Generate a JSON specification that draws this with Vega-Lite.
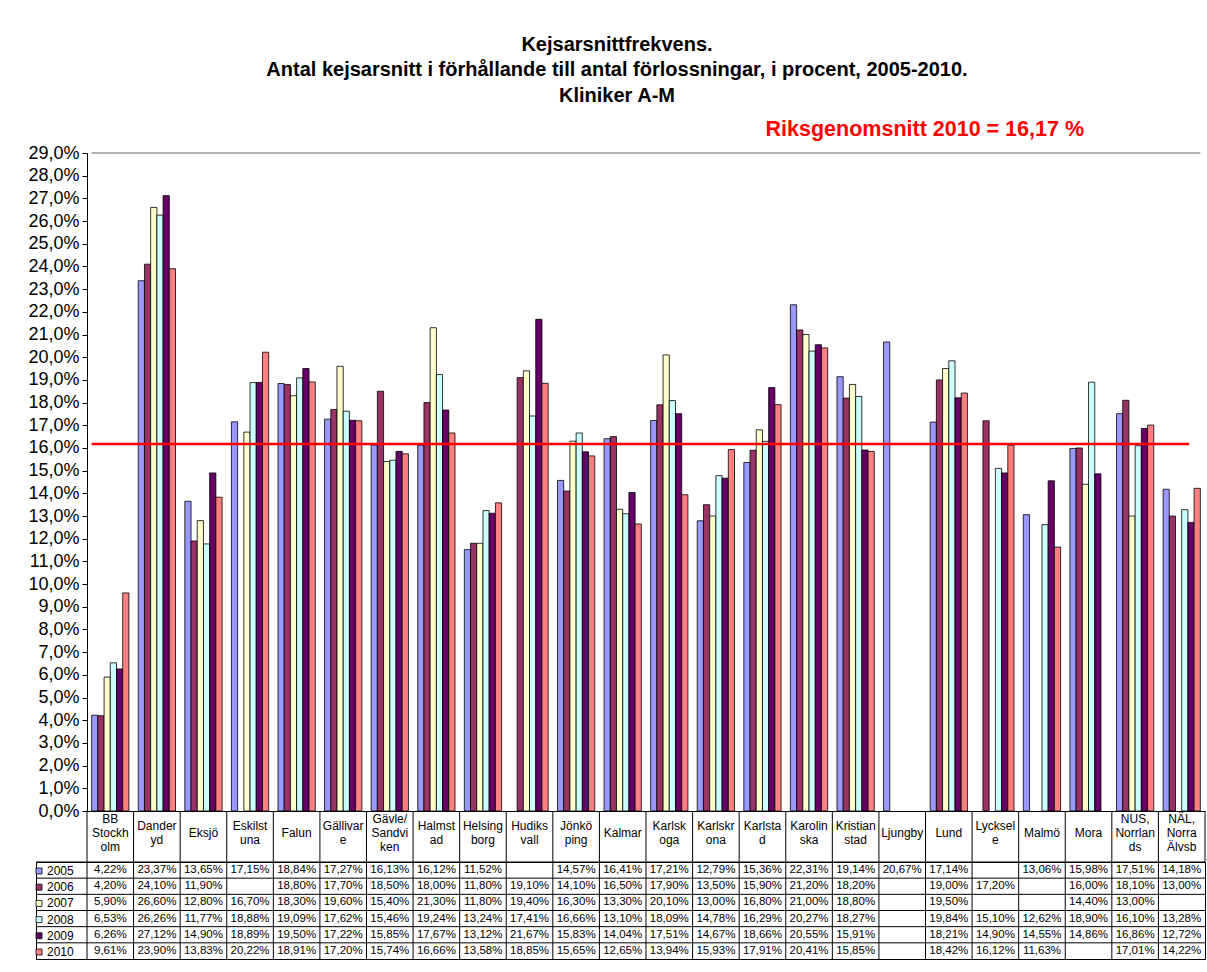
{
  "$schema": "https://vega.github.io/schema/vega-lite/v6.json",
  "background": "white",
  "padding": {"left": 27, "top": 34, "right": 2, "bottom": 5},
  "spacing": 0,
  "bounds": "flush",
  "config": {
    "font": "Liberation Sans",
    "locale": {"number": {"decimal": ",", "thousands": " ", "grouping": [3], "currency": ["", " kr"]}},
    "view": {"stroke": null},
    "concat": {"spacing": 0},
    "axisY": {"labelOverlap": false, "tickCount": 40, "labelFontSize": 18, "labelColor": "black", "labelPadding": 3, "tickSize": 5, "tickColor": "black", "domainColor": "black", "grid": false}
  },
  "title": {
    "text": ["Kejsarsnittfrekvens.", "Antal kejsarsnitt i förhållande  till antal förlossningar, i procent, 2005-2010.", "Kliniker A-M"],
    "fontSize": 20, "fontWeight": "bold", "lineHeight": 25.5, "anchor": "middle", "offset": 13, "color": "black"
  },
  "datasets": {
    "kliniker": [
      {"k": "BB Stockholm", "rubrik": "BB|Stockh|olm"},
      {"k": "Danderyd", "rubrik": "Dander|yd"},
      {"k": "Eksjö", "rubrik": "Eksjö"},
      {"k": "Eskilstuna", "rubrik": "Eskilst|una"},
      {"k": "Falun", "rubrik": "Falun"},
      {"k": "Gällivare", "rubrik": "Gällivar|e"},
      {"k": "Gävle/Sandviken", "rubrik": "Gävle/|Sandvi|ken"},
      {"k": "Halmstad", "rubrik": "Halmst|ad"},
      {"k": "Helsingborg", "rubrik": "Helsing|borg"},
      {"k": "Hudiksvall", "rubrik": "Hudiks|vall"},
      {"k": "Jönköping", "rubrik": "Jönkö|ping"},
      {"k": "Kalmar", "rubrik": "Kalmar"},
      {"k": "Karlskoga", "rubrik": "Karlsk|oga"},
      {"k": "Karlskrona", "rubrik": "Karlskr|ona"},
      {"k": "Karlstad", "rubrik": "Karlsta|d"},
      {"k": "Karolinska", "rubrik": "Karolin|ska"},
      {"k": "Kristianstad", "rubrik": "Kristian|stad"},
      {"k": "Ljungby", "rubrik": "Ljungby"},
      {"k": "Lund", "rubrik": "Lund"},
      {"k": "Lycksele", "rubrik": "Lycksel|e"},
      {"k": "Malmö", "rubrik": "Malmö"},
      {"k": "Mora", "rubrik": "Mora"},
      {"k": "NUS, Norrlands", "rubrik": "NUS,|Norrlan|ds"},
      {"k": "NÄL, Norra Älvsb", "rubrik": "NÄL,|Norra|Älvsb"}
    ],
    "ar": [{"ar": "2005"}, {"ar": "2006"}, {"ar": "2007"}, {"ar": "2008"}, {"ar": "2009"}, {"ar": "2010"}],
    "data": [
      {"k": "BB Stockholm", "ar": "2005", "v": 0.0422}, {"k": "BB Stockholm", "ar": "2006", "v": 0.0420}, {"k": "BB Stockholm", "ar": "2007", "v": 0.0590}, {"k": "BB Stockholm", "ar": "2008", "v": 0.0653}, {"k": "BB Stockholm", "ar": "2009", "v": 0.0626}, {"k": "BB Stockholm", "ar": "2010", "v": 0.0961},
      {"k": "Danderyd", "ar": "2005", "v": 0.2337}, {"k": "Danderyd", "ar": "2006", "v": 0.2410}, {"k": "Danderyd", "ar": "2007", "v": 0.2660}, {"k": "Danderyd", "ar": "2008", "v": 0.2626}, {"k": "Danderyd", "ar": "2009", "v": 0.2712}, {"k": "Danderyd", "ar": "2010", "v": 0.2390},
      {"k": "Eksjö", "ar": "2005", "v": 0.1365}, {"k": "Eksjö", "ar": "2006", "v": 0.1190}, {"k": "Eksjö", "ar": "2007", "v": 0.1280}, {"k": "Eksjö", "ar": "2008", "v": 0.1177}, {"k": "Eksjö", "ar": "2009", "v": 0.1490}, {"k": "Eksjö", "ar": "2010", "v": 0.1383},
      {"k": "Eskilstuna", "ar": "2005", "v": 0.1715}, {"k": "Eskilstuna", "ar": "2007", "v": 0.1670}, {"k": "Eskilstuna", "ar": "2008", "v": 0.1888}, {"k": "Eskilstuna", "ar": "2009", "v": 0.1889}, {"k": "Eskilstuna", "ar": "2010", "v": 0.2022},
      {"k": "Falun", "ar": "2005", "v": 0.1884}, {"k": "Falun", "ar": "2006", "v": 0.1880}, {"k": "Falun", "ar": "2007", "v": 0.1830}, {"k": "Falun", "ar": "2008", "v": 0.1909}, {"k": "Falun", "ar": "2009", "v": 0.1950}, {"k": "Falun", "ar": "2010", "v": 0.1891},
      {"k": "Gällivare", "ar": "2005", "v": 0.1727}, {"k": "Gällivare", "ar": "2006", "v": 0.1770}, {"k": "Gällivare", "ar": "2007", "v": 0.1960}, {"k": "Gällivare", "ar": "2008", "v": 0.1762}, {"k": "Gällivare", "ar": "2009", "v": 0.1722}, {"k": "Gällivare", "ar": "2010", "v": 0.1720},
      {"k": "Gävle/Sandviken", "ar": "2005", "v": 0.1613}, {"k": "Gävle/Sandviken", "ar": "2006", "v": 0.1850}, {"k": "Gävle/Sandviken", "ar": "2007", "v": 0.1540}, {"k": "Gävle/Sandviken", "ar": "2008", "v": 0.1546}, {"k": "Gävle/Sandviken", "ar": "2009", "v": 0.1585}, {"k": "Gävle/Sandviken", "ar": "2010", "v": 0.1574},
      {"k": "Halmstad", "ar": "2005", "v": 0.1612}, {"k": "Halmstad", "ar": "2006", "v": 0.1800}, {"k": "Halmstad", "ar": "2007", "v": 0.2130}, {"k": "Halmstad", "ar": "2008", "v": 0.1924}, {"k": "Halmstad", "ar": "2009", "v": 0.1767}, {"k": "Halmstad", "ar": "2010", "v": 0.1666},
      {"k": "Helsingborg", "ar": "2005", "v": 0.1152}, {"k": "Helsingborg", "ar": "2006", "v": 0.1180}, {"k": "Helsingborg", "ar": "2007", "v": 0.1180}, {"k": "Helsingborg", "ar": "2008", "v": 0.1324}, {"k": "Helsingborg", "ar": "2009", "v": 0.1312}, {"k": "Helsingborg", "ar": "2010", "v": 0.1358},
      {"k": "Hudiksvall", "ar": "2006", "v": 0.1910}, {"k": "Hudiksvall", "ar": "2007", "v": 0.1940}, {"k": "Hudiksvall", "ar": "2008", "v": 0.1741}, {"k": "Hudiksvall", "ar": "2009", "v": 0.2167}, {"k": "Hudiksvall", "ar": "2010", "v": 0.1885},
      {"k": "Jönköping", "ar": "2005", "v": 0.1457}, {"k": "Jönköping", "ar": "2006", "v": 0.1410}, {"k": "Jönköping", "ar": "2007", "v": 0.1630}, {"k": "Jönköping", "ar": "2008", "v": 0.1666}, {"k": "Jönköping", "ar": "2009", "v": 0.1583}, {"k": "Jönköping", "ar": "2010", "v": 0.1565},
      {"k": "Kalmar", "ar": "2005", "v": 0.1641}, {"k": "Kalmar", "ar": "2006", "v": 0.1650}, {"k": "Kalmar", "ar": "2007", "v": 0.1330}, {"k": "Kalmar", "ar": "2008", "v": 0.1310}, {"k": "Kalmar", "ar": "2009", "v": 0.1404}, {"k": "Kalmar", "ar": "2010", "v": 0.1265},
      {"k": "Karlskoga", "ar": "2005", "v": 0.1721}, {"k": "Karlskoga", "ar": "2006", "v": 0.1790}, {"k": "Karlskoga", "ar": "2007", "v": 0.2010}, {"k": "Karlskoga", "ar": "2008", "v": 0.1809}, {"k": "Karlskoga", "ar": "2009", "v": 0.1751}, {"k": "Karlskoga", "ar": "2010", "v": 0.1394},
      {"k": "Karlskrona", "ar": "2005", "v": 0.1279}, {"k": "Karlskrona", "ar": "2006", "v": 0.1350}, {"k": "Karlskrona", "ar": "2007", "v": 0.1300}, {"k": "Karlskrona", "ar": "2008", "v": 0.1478}, {"k": "Karlskrona", "ar": "2009", "v": 0.1467}, {"k": "Karlskrona", "ar": "2010", "v": 0.1593},
      {"k": "Karlstad", "ar": "2005", "v": 0.1536}, {"k": "Karlstad", "ar": "2006", "v": 0.1590}, {"k": "Karlstad", "ar": "2007", "v": 0.1680}, {"k": "Karlstad", "ar": "2008", "v": 0.1629}, {"k": "Karlstad", "ar": "2009", "v": 0.1866}, {"k": "Karlstad", "ar": "2010", "v": 0.1791},
      {"k": "Karolinska", "ar": "2005", "v": 0.2231}, {"k": "Karolinska", "ar": "2006", "v": 0.2120}, {"k": "Karolinska", "ar": "2007", "v": 0.2100}, {"k": "Karolinska", "ar": "2008", "v": 0.2027}, {"k": "Karolinska", "ar": "2009", "v": 0.2055}, {"k": "Karolinska", "ar": "2010", "v": 0.2041},
      {"k": "Kristianstad", "ar": "2005", "v": 0.1914}, {"k": "Kristianstad", "ar": "2006", "v": 0.1820}, {"k": "Kristianstad", "ar": "2007", "v": 0.1880}, {"k": "Kristianstad", "ar": "2008", "v": 0.1827}, {"k": "Kristianstad", "ar": "2009", "v": 0.1591}, {"k": "Kristianstad", "ar": "2010", "v": 0.1585},
      {"k": "Ljungby", "ar": "2005", "v": 0.2067},
      {"k": "Lund", "ar": "2005", "v": 0.1714}, {"k": "Lund", "ar": "2006", "v": 0.1900}, {"k": "Lund", "ar": "2007", "v": 0.1950}, {"k": "Lund", "ar": "2008", "v": 0.1984}, {"k": "Lund", "ar": "2009", "v": 0.1821}, {"k": "Lund", "ar": "2010", "v": 0.1842},
      {"k": "Lycksele", "ar": "2006", "v": 0.1720}, {"k": "Lycksele", "ar": "2008", "v": 0.1510}, {"k": "Lycksele", "ar": "2009", "v": 0.1490}, {"k": "Lycksele", "ar": "2010", "v": 0.1612},
      {"k": "Malmö", "ar": "2005", "v": 0.1306}, {"k": "Malmö", "ar": "2008", "v": 0.1262}, {"k": "Malmö", "ar": "2009", "v": 0.1455}, {"k": "Malmö", "ar": "2010", "v": 0.1163},
      {"k": "Mora", "ar": "2005", "v": 0.1598}, {"k": "Mora", "ar": "2006", "v": 0.1600}, {"k": "Mora", "ar": "2007", "v": 0.1440}, {"k": "Mora", "ar": "2008", "v": 0.1890}, {"k": "Mora", "ar": "2009", "v": 0.1486},
      {"k": "NUS, Norrlands", "ar": "2005", "v": 0.1751}, {"k": "NUS, Norrlands", "ar": "2006", "v": 0.1810}, {"k": "NUS, Norrlands", "ar": "2007", "v": 0.1300}, {"k": "NUS, Norrlands", "ar": "2008", "v": 0.1610}, {"k": "NUS, Norrlands", "ar": "2009", "v": 0.1686}, {"k": "NUS, Norrlands", "ar": "2010", "v": 0.1701},
      {"k": "NÄL, Norra Älvsb", "ar": "2005", "v": 0.1418}, {"k": "NÄL, Norra Älvsb", "ar": "2006", "v": 0.1300}, {"k": "NÄL, Norra Älvsb", "ar": "2008", "v": 0.1328}, {"k": "NÄL, Norra Älvsb", "ar": "2009", "v": 0.1272}, {"k": "NÄL, Norra Älvsb", "ar": "2010", "v": 0.1422}
    ]
  },
  "vconcat": [
    {
      "width": 1169, "height": 658,
      "title": {"text": "Riksgenomsnitt 2010 = 16,17 %", "anchor": "end", "dx": -121, "color": "#FF0000", "fontSize": 21.5, "fontWeight": "bold", "offset": 4},
      "layer": [
        {
          "data": {"name": "data"},
          "mark": {"type": "bar", "stroke": "black", "strokeWidth": 0.8},
          "encoding": {
            "x": {"field": "k", "type": "nominal",
              "scale": {"domain": ["BB Stockholm", "Danderyd", "Eksjö", "Eskilstuna", "Falun", "Gällivare", "Gävle/Sandviken", "Halmstad", "Helsingborg", "Hudiksvall", "Jönköping", "Kalmar", "Karlskoga", "Karlskrona", "Karlstad", "Karolinska", "Kristianstad", "Ljungby", "Lund", "Lycksele", "Malmö", "Mora", "NUS, Norrlands", "NÄL, Norra Älvsb"], "range": [51, 1169], "paddingInner": 0.2, "paddingOuter": 0.1},
              "axis": {"title": null, "labels": false, "ticks": false, "domain": true, "domainColor": "black", "domainWidth": 1}},
            "xOffset": {"field": "ar", "type": "nominal", "scale": {"paddingInner": 0, "paddingOuter": 0}},
            "y": {"field": "v", "type": "quantitative",
              "scale": {"domain": [0, 0.29], "nice": false},
              "axis": {"title": null, "offset": -51, "tickCount": 40, "values": [0, 0.01, 0.02, 0.03, 0.04, 0.05, 0.06, 0.07, 0.08, 0.09, 0.1, 0.11, 0.12, 0.13, 0.14, 0.15, 0.16, 0.17, 0.18, 0.19, 0.2, 0.21, 0.22, 0.23, 0.24, 0.25, 0.26, 0.27, 0.28, 0.29], "format": ".1%", "labelOverlap": false}},
            "fill": {"field": "ar", "type": "nominal",
              "scale": {"domain": ["2005", "2006", "2007", "2008", "2009", "2010"], "range": ["#9999FF", "#993366", "#FFFFCC", "#CCFFFF", "#660066", "#FF8080"]},
              "legend": {"orient": "none", "legendX": -3, "legendY": 712, "padding": 0, "direction": "vertical", "title": null, "symbolType": "square", "symbolSize": 36, "symbolStrokeColor": "black", "symbolStrokeWidth": 0.8, "labelFontSize": 12, "labelColor": "black", "rowPadding": 4.2, "labelOffset": 2}}
          }
        },
        {
          "data": {"values": [{}]},
          "mark": {"type": "rule", "color": "#FF0000", "strokeWidth": 2.5},
          "encoding": {
            "x": {"datum": "BB Stockholm", "bandPosition": 0},
            "x2": {"datum": "NÄL, Norra Älvsb", "bandPosition": 0.7},
            "y": {"datum": 0.1617, "axis": {"title": null, "offset": -51, "tickCount": 40, "values": [0, 0.01, 0.02, 0.03, 0.04, 0.05, 0.06, 0.07, 0.08, 0.09, 0.1, 0.11, 0.12, 0.13, 0.14, 0.15, 0.16, 0.17, 0.18, 0.19, 0.2, 0.21, 0.22, 0.23, 0.24, 0.25, 0.26, 0.27, 0.28, 0.29], "format": ".1%", "labelOverlap": false}}
          }
        },
        {
          "data": {"values": [{}]},
          "mark": {"type": "rule", "color": "#999999", "strokeWidth": 1.5},
          "encoding": {
            "x": {"datum": "BB Stockholm", "bandPosition": 0},
            "x2": {"datum": "NÄL, Norra Älvsb", "bandPosition": 1},
            "y": {"datum": 0.29, "axis": {"title": null, "offset": -51, "tickCount": 40, "values": [0, 0.01, 0.02, 0.03, 0.04, 0.05, 0.06, 0.07, 0.08, 0.09, 0.1, 0.11, 0.12, 0.13, 0.14, 0.15, 0.16, 0.17, 0.18, 0.19, 0.2, 0.21, 0.22, 0.23, 0.24, 0.25, 0.26, 0.27, 0.28, 0.29], "format": ".1%", "labelOverlap": false}}
          }
        }
      ]
    },
    {
      "width": 1169, "height": 51,
      "data": {"name": "kliniker"},
      "encoding": {
        "x": {"field": "k", "type": "nominal",
          "scale": {"domain": ["BB Stockholm", "Danderyd", "Eksjö", "Eskilstuna", "Falun", "Gällivare", "Gävle/Sandviken", "Halmstad", "Helsingborg", "Hudiksvall", "Jönköping", "Kalmar", "Karlskoga", "Karlskrona", "Karlstad", "Karolinska", "Kristianstad", "Ljungby", "Lund", "Lycksele", "Malmö", "Mora", "NUS, Norrlands", "NÄL, Norra Älvsb"], "range": [51, 1169], "paddingInner": 0, "paddingOuter": 0},
          "axis": null}
      },
      "layer": [
        {
          "mark": {"type": "rule", "color": "black", "strokeWidth": 1},
          "encoding": {"x": {"field": "k", "type": "nominal", "bandPosition": 0}}
        },
        {
          "data": {"values": [{}]},
          "mark": {"type": "rule", "color": "black", "strokeWidth": 1},
          "encoding": {"x": {"datum": "NÄL, Norra Älvsb", "bandPosition": 1}}
        },
        {
          "transform": [{"filter": "length(split(datum.rubrik, '|')) == 1"}],
          "mark": {"type": "text", "lineBreak": "|", "fontSize": 12, "lineHeight": 14, "baseline": "middle", "dy": -3.5, "color": "black"},
          "encoding": {"text": {"field": "rubrik"}}
        },
        {
          "transform": [{"filter": "length(split(datum.rubrik, '|')) == 2"}],
          "mark": {"type": "text", "lineBreak": "|", "fontSize": 12, "lineHeight": 14, "baseline": "middle", "dy": -10.5, "color": "black"},
          "encoding": {"text": {"field": "rubrik"}}
        },
        {
          "transform": [{"filter": "length(split(datum.rubrik, '|')) == 3"}],
          "mark": {"type": "text", "lineBreak": "|", "fontSize": 12, "lineHeight": 14, "baseline": "middle", "dy": -17.5, "color": "black"},
          "encoding": {"text": {"field": "rubrik"}}
        }
      ]
    },
    {
      "width": 1169, "height": 97,
      "view": {"stroke": "black", "strokeWidth": 1},
      "layer": [
        {
          "data": {"name": "kliniker"},
          "mark": {"type": "rule", "color": "black", "strokeWidth": 1},
          "encoding": {
            "x": {"field": "k", "type": "nominal", "bandPosition": 0,
              "scale": {"domain": ["BB Stockholm", "Danderyd", "Eksjö", "Eskilstuna", "Falun", "Gällivare", "Gävle/Sandviken", "Halmstad", "Helsingborg", "Hudiksvall", "Jönköping", "Kalmar", "Karlskoga", "Karlskrona", "Karlstad", "Karolinska", "Kristianstad", "Ljungby", "Lund", "Lycksele", "Malmö", "Mora", "NUS, Norrlands", "NÄL, Norra Älvsb"], "range": [51, 1169], "paddingInner": 0, "paddingOuter": 0},
              "axis": null}
          }
        },
        {
          "data": {"name": "ar"},
          "mark": {"type": "rule", "color": "black", "strokeWidth": 1},
          "encoding": {
            "y": {"field": "ar", "type": "nominal", "bandPosition": 0,
              "scale": {"domain": ["2005", "2006", "2007", "2008", "2009", "2010"], "paddingInner": 0, "paddingOuter": 0},
              "axis": null}
          }
        },
        {
          "data": {"name": "data"},
          "mark": {"type": "text", "fontSize": 11.5, "color": "black"},
          "encoding": {
            "x": {"field": "k", "type": "nominal"},
            "y": {"field": "ar", "type": "nominal"},
            "text": {"field": "v", "type": "quantitative", "format": ".2%"}
          }
        }
      ]
    }
  ]
}
